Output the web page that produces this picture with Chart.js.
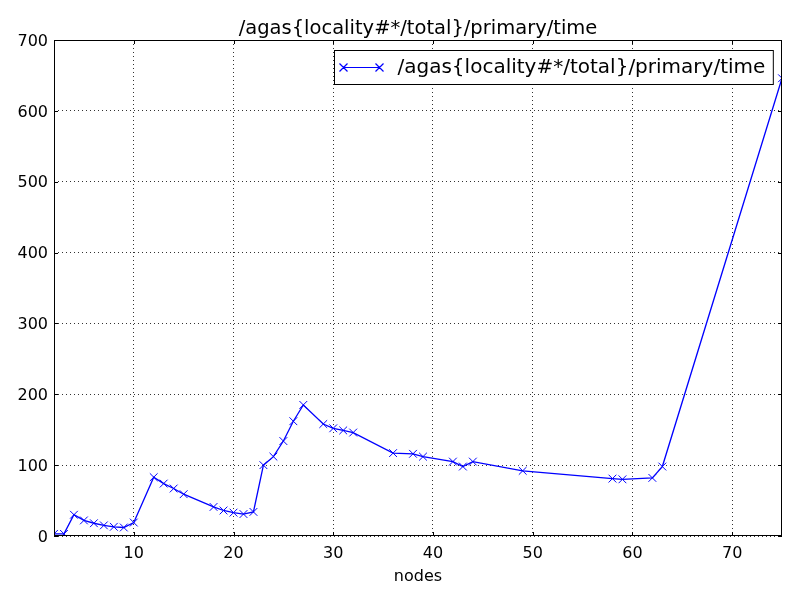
<!DOCTYPE html>
<html>
<head>
<meta charset="utf-8">
<script src="https://cdn.jsdelivr.net/npm/chart.js@4/dist/chart.umd.min.js"></script>
<style>
html,body{margin:0;padding:0;background:#fff;}
#wrap{width:800px;height:600px;}
</style>
</head>
<body>
<div id="wrap"><canvas id="c" width="800" height="600"></canvas></div>
<script>
const seriesName = "/agas{locality#*/total}/primary/time";
const nodes = [2,3,4,5,6,7,8,9,10,12,13,14,15,18,19,20,21,22,23,24,25,26,27,29,30,31,32,36,38,39,42,43,44,49,58,59,62,63,75];
const times = [3,3,30,22,18,15,13,12,19,83,74,67,59,41,36,33,31,34,100,112,134,162,185,158,152,149,146,117,116,112,105,98,105,92,81,80,82,98,646];
const xTicks = [10,20,30,40,50,60,70];
const yTicks = [0,100,200,300,400,500,600,700];

const FONT = "DejaVu Sans";
Chart.defaults.font.family = FONT;
Chart.defaults.color = "#000";

const framePlugin = {
  id: "frame",
  afterDraw(chart) {
    const ctx = chart.ctx, a = chart.chartArea;
    ctx.save();
    // inner ticks
    ctx.strokeStyle = "#000"; ctx.lineWidth = 1;
    const xs = chart.scales.x, ys = chart.scales.y;
    ctx.beginPath();
    xs.ticks.forEach(t => {
      const px = Math.round(xs.getPixelForValue(t.value)) + 0.5;
      ctx.moveTo(px, a.bottom); ctx.lineTo(px, a.bottom - 4);
      ctx.moveTo(px, a.top); ctx.lineTo(px, a.top + 4);
    });
    ys.ticks.forEach(t => {
      const py = Math.round(ys.getPixelForValue(t.value)) + 0.5;
      ctx.moveTo(a.left, py); ctx.lineTo(a.left + 4, py);
      ctx.moveTo(a.right, py); ctx.lineTo(a.right - 4, py);
    });
    ctx.stroke();
    // frame
    ctx.lineWidth = 1;
    ctx.strokeRect(Math.round(a.left) + 0.5, Math.round(a.top) + 0.5, Math.round(a.right - a.left) - 1, Math.round(a.bottom - a.top) - 1);
    // legend
    ctx.font = "20px '" + FONT + "'";
    const tw = ctx.measureText(seriesName).width;
    const bh = 34;
    const bw = 63 + tw + 8;
    const bx = Math.round(a.right - 9 - bw) + 0.5;
    const by = Math.round(a.top + 10) + 0.5;
    ctx.fillStyle = "#fff";
    ctx.fillRect(bx, by, bw, bh);
    ctx.strokeStyle = "#000";
    ctx.strokeRect(bx, by, bw, bh);
    const ly = by + bh / 2;
    ctx.strokeStyle = "#0000ff";
    ctx.lineWidth = 1.2;
    ctx.beginPath();
    ctx.moveTo(bx + 9, ly); ctx.lineTo(bx + 45, ly);
    [bx + 9, bx + 45].forEach(cx => {
      ctx.moveTo(cx - 4, ly - 4); ctx.lineTo(cx + 4, ly + 4);
      ctx.moveTo(cx - 4, ly + 4); ctx.lineTo(cx + 4, ly - 4);
    });
    ctx.stroke();
    ctx.fillStyle = "#000";
    ctx.textBaseline = "middle";
    ctx.textAlign = "left";
    ctx.fillText(seriesName, bx + 63, ly);
    ctx.restore();
  }
};

new Chart(document.getElementById("c"), {
  type: "scatter",
  data: {
    datasets: [{
      label: seriesName,
      data: nodes.map((n, i) => ({x: n, y: times[i]})),
      showLine: true,
      borderColor: "#0000ff",
      backgroundColor: "#0000ff",
      borderWidth: 1.3,
      tension: 0,
      pointStyle: "crossRot",
      pointRadius: 5.5,
      pointBorderWidth: 1,
      pointBorderColor: "#0000ff",
      pointHoverRadius: 5.5
    }]
  },
  options: {
    responsive: false,
    animation: false,
    devicePixelRatio: 1,
    layout: {padding: {left: 0, right: 18, top: 0, bottom: 0}},
    plugins: {
      legend: {display: false},
      tooltip: {enabled: false},
      title: {
        display: true,
        fullSize: false,
        text: seriesName,
        color: "#000",
        font: {size: 19.5, weight: "normal", family: FONT, lineHeight: 1.2},
        padding: {top: 17, bottom: -0.4}
      }
    },
    scales: {
      x: {
        type: "linear",
        min: 2, max: 75,
        afterBuildTicks(s) { s.ticks = xTicks.map(v => ({value: v})); },
        afterFit(s) { s.height = 64; },
        ticks: {font: {size: 16}, color: "#000", padding: 8, maxRotation: 0},
        grid: {color: "rgba(0,0,0,0.8)", lineWidth: 1, drawTicks: false},
        border: {display: false, dash: [1, 3]},
        title: {display: true, text: "nodes", color: "#000", font: {size: 16}, padding: {top: 0, bottom: 14}}
      },
      y: {
        type: "linear",
        min: 0, max: 700,
        afterBuildTicks(s) { s.ticks = yTicks.map(v => ({value: v})); },
        afterFit(s) { s.width = 54; },
        ticks: {font: {size: 16}, color: "#000", padding: 6, labelOffset: 1.5},
        grid: {color: "rgba(0,0,0,0.8)", lineWidth: 1, drawTicks: false},
        border: {display: false, dash: [1, 3]}
      }
    }
  },
  plugins: [framePlugin]
});
</script>
</body>
</html>
